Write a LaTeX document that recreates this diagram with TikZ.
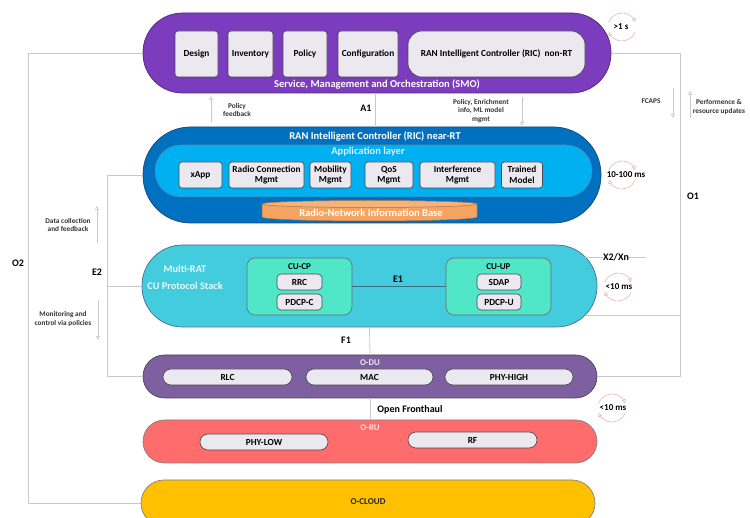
\documentclass[tikz,border=0pt]{standalone}
\usepackage{fontspec}
\setmainfont{Carlito}
\usetikzlibrary{arrows.meta}

\definecolor{smofill}{RGB}{124,60,190}
\definecolor{smoline}{RGB}{80,40,120}
\definecolor{ricfill}{RGB}{0,112,192}
\definecolor{ricline}{RGB}{30,70,120}
\definecolor{appfill}{RGB}{0,176,240}
\definecolor{dbfill}{RGB}{244,164,96}
\definecolor{cufill}{RGB}{66,204,222}
\definecolor{cucpfill}{RGB}{80,230,200}
\definecolor{dufill}{RGB}{126,96,160}
\definecolor{rufill}{RGB}{255,108,108}
\definecolor{cloudfill}{RGB}{255,192,0}
\definecolor{boxfill}{RGB}{236,232,240}
\definecolor{boxline}{RGB}{70,70,80}
\definecolor{e1line}{RGB}{60,110,120}
\definecolor{linegray}{RGB}{200,200,200}
\definecolor{cycpink}{RGB}{232,180,180}

\begin{document}
\begin{tikzpicture}[x=1pt,y=-1pt,
  link/.style={draw=linegray, line width=0.8pt},
  flow/.style={draw=linegray, line width=0.6pt, -{Triangle[open,length=4pt,width=4pt]}},
  pill/.style={draw=#1, line width=0.7pt, inner sep=0pt},
  box/.style={draw=boxline, fill=boxfill, line width=0.6pt, rounded corners=3pt, inner sep=0pt,
    align=center, font=\bfseries\fontsize{9.3}{10.5}\selectfont},
  lbl/.style={font=\bfseries\fontsize{10}{12}\selectfont, text=black, inner sep=1pt},
  note/.style={font=\bfseries\fontsize{7.3}{8.6}\selectfont, text=black!80, align=center, inner sep=0pt},
  title/.style={font=\bfseries\fontsize{10.5}{12}\selectfont, text=white, inner sep=0pt},
  timing/.style={font=\bfseries\fontsize{9}{10}\selectfont, text=black, inner sep=0pt},
  cyc/.style={draw=cycpink, line width=0.6pt, -{Triangle[open,length=4pt,width=4pt]}},
  cycle icon/.pic={
    \draw[cyc] (-160:14) arc[start angle=-160, end angle=-20, radius=14];
    \draw[cyc] (20:14) arc[start angle=20, end angle=160, radius=14];
  }]
\useasboundingbox (0,0) rectangle (750,518);

% ---------- SMO ----------
\node[pill=smoline, fill=smofill, rounded corners=39.5pt, minimum width=468pt, minimum height=80pt] (smo) at (377,53) {};
\node[box, minimum width=43pt, minimum height=46pt] (design) at (196.5,54) {Design};
\node[box, minimum width=45pt, minimum height=46pt] (inventory) at (250.5,54) {Inventory};
\node[box, minimum width=44pt, minimum height=46pt] (policy) at (305,54) {Policy};
\node[box, minimum width=60pt, minimum height=46pt] (config) at (368,54) {Configuration};
\node[box, rounded corners=14pt, minimum width=177pt, minimum height=46pt] (nonrt) at (496.5,54) {RAN Intelligent Controller (RIC)~ non-RT};
\node[title] (smotitle) at (377,84) {Service, Management and Orchestration (SMO)};

% ---------- near-RT RIC ----------
\node[pill=ricline, fill=ricfill, rounded corners=47.5pt, minimum width=458pt, minimum height=96pt] (nearrt) at (372,175) {};
\node[title] (nearrttitle) at (375,136) {RAN Intelligent Controller (RIC) near-RT};
\node[draw=ricline!70, line width=0.5pt, fill=appfill, rounded corners=25.5pt, minimum width=437pt, minimum height=52pt, inner sep=0pt] (app) at (373.5,171) {};
\node[title, text=white!85!appfill] (apptitle) at (368,152) {Application layer};
\node[box, minimum width=43pt, minimum height=26pt] (xapp) at (200.5,175) {xApp};
\node[box, minimum width=75pt, minimum height=26pt] (rcm) at (266.5,175) {Radio Connection\\Mgmt};
\node[box, minimum width=41pt, minimum height=26pt] (mob) at (330.5,175) {Mobility\\Mgmt};
\node[box, minimum width=48pt, minimum height=26pt] (qos) at (389,175) {QoS\\Mgmt};
\node[box, minimum width=75pt, minimum height=26pt] (intf) at (457.5,175) {Interference\\Mgmt};
\node[box, minimum width=41pt, minimum height=26pt] (trained) at (522,175) {Trained\\Model};

% Radio-network information base drawn as a flat cylinder
\fill[dbfill] (262,204) -- (262,217) arc[start angle=180, end angle=0, x radius=107.5, y radius=4]
  -- (477,204) arc[start angle=0, end angle=-180, x radius=107.5, y radius=3.5] -- cycle;
\draw[dbfill!70!black, line width=0.5pt] (262,204) -- (262,217) arc[start angle=180, end angle=0, x radius=107.5, y radius=4] -- (477,204);
\draw[dbfill!70!black, fill=dbfill!85!white, line width=0.5pt] (369.5,204) ellipse[x radius=107.5, y radius=3.5];
\node[title] (rnib) at (371,213) {Radio-Network Information Base};

% ---------- CU ----------
\node[pill=ricline!80, fill=cufill, rounded corners=40.5pt, minimum width=455pt, minimum height=82pt] (cu) at (369.5,286) {};
\node[title, text=white!88!cufill, align=center, font=\bfseries\fontsize{10.3}{17}\selectfont] (multirat) at (185,277) {Multi-RAT\\CU Protocol Stack};
\node[draw=boxline!80, line width=0.6pt, fill=cucpfill, rounded corners=8pt, minimum width=105pt, minimum height=57pt, inner sep=0pt] (cucp) at (299.5,286.5) {};
\node[draw=boxline!80, line width=0.6pt, fill=cucpfill, rounded corners=8pt, minimum width=105pt, minimum height=57pt, inner sep=0pt] (cuup) at (498.5,286.5) {};
\node[lbl, font=\bfseries\fontsize{9}{10}\selectfont] (cucpl) at (299.5,267) {CU-CP};
\node[lbl, font=\bfseries\fontsize{9}{10}\selectfont] (cuupl) at (498.5,267) {CU-UP};
\node[box, rounded corners=4pt, minimum width=45pt, minimum height=16pt] (rrc) at (299.5,282) {RRC};
\node[box, rounded corners=4pt, minimum width=45pt, minimum height=16pt] (pdcpc) at (299.5,302) {PDCP-C};
\node[box, rounded corners=4pt, minimum width=44pt, minimum height=16pt] (sdap) at (499,282) {SDAP};
\node[box, rounded corners=4pt, minimum width=44pt, minimum height=16pt] (pdcpu) at (499,302) {PDCP-U};
\draw[draw=e1line, line width=0.5pt] (cucp.east) -- (cuup.west);
\node[lbl] (e1) at (398,279) {E1};

% ---------- O-DU ----------
\node[pill=boxline, fill=dufill, rounded corners=21.5pt, minimum width=454pt, minimum height=43pt] (odu) at (370,376.5) {};
\node[title, font=\bfseries\fontsize{8.8}{10}\selectfont, text=white!85!dufill] (odul) at (370,363) {O-DU};
\node[box, rounded corners=8pt, minimum width=129pt, minimum height=16pt] (rlc) at (227.5,377) {RLC};
\node[box, rounded corners=8pt, minimum width=127pt, minimum height=16pt] (mac) at (369.5,377) {MAC};
\node[box, rounded corners=8pt, minimum width=128pt, minimum height=16pt] (phyhigh) at (509,377) {PHY-HIGH};

% ---------- O-RU ----------
\node[pill=boxline!70, fill=rufill, rounded corners=21.5pt, minimum width=454pt, minimum height=43pt] (oru) at (370,441.5) {};
\node[title, font=\bfseries\fontsize{8.8}{10}\selectfont, text=white!80!rufill] (orul) at (370,428) {O-RU};
\node[box, rounded corners=8pt, minimum width=128pt, minimum height=16pt] (phylow) at (264,442) {PHY-LOW};
\node[box, rounded corners=8pt, minimum width=129pt, minimum height=16pt] (rf) at (472.5,440) {RF};

% ---------- O-CLOUD ----------
\node[pill=boxline!70, fill=cloudfill, rounded corners=23pt, minimum width=454pt, minimum height=46pt] (ocloud) at (368,503) {};
\node[lbl, font=\bfseries\fontsize{9}{10}\selectfont, text=black!85] (ocloudl) at (368,502) {O-CLOUD};

% ---------- interfaces ----------
\coordinate (o2top) at (28,53);
\coordinate (o2bot) at (28,503);
\draw[link] (smo.west) -- (o2top) -- (o2bot) -- (ocloud.west);
\node[lbl] (o2) at (18,263) {O2};

\coordinate (e2top) at (107,175);
\coordinate (e2mid) at (107,286);
\coordinate (e2bot) at (107,376.5);
\draw[link] (nearrt.west) -- (e2top) -- (e2bot) -- (odu.west);
\draw[link] (e2mid) -- (cu.west);
\node[lbl] (e2) at (97,272) {E2};

\coordinate (a1x) at (375,0);
\draw[link] (smo.south -| a1x) -- (nearrt.north -| a1x);
\node[lbl] (a1) at (366,108) {A1};

\draw[link] (cu.south) -- (odu.north);
\node[lbl] (f1) at (346,340) {F1};
\draw[link] (odu.south) -- (oru.north);
\node[lbl] (ofh) at (410,410) {Open Fronthaul};

\coordinate (o1top) at (680,53);
\coordinate (o1cu) at (680,315);
\coordinate (o1bot) at (680,376.5);
\coordinate (cuedge) at (585,315);
\draw[link] (smo.east) -- (o1top) -- (o1bot) -- (odu.east);
\draw[link] (o1cu) -- (cuedge);
\node[lbl] (o1) at (693,196) {O1};

\coordinate (x2a) at (585,257);
\coordinate (x2b) at (646,257);
\draw[link] (x2a) -- (x2b);
\node[lbl, fill=white, inner sep=0.5pt] (x2) at (616,257) {X2/Xn};

% ---------- flow annotations ----------
\coordinate (pfa) at (211,122); \coordinate (pfb) at (211,96);
\draw[flow] (pfa) -- (pfb);
\node[note] (pfn) at (237,110) {Policy\\feedback};

\coordinate (pea) at (522,97); \coordinate (peb) at (522,126);
\draw[flow] (pea) -- (peb);
\node[note] (pen) at (481,111) {Policy, Enrichment\\info, ML model\\mgmt};

\coordinate (fca) at (673,88); \coordinate (fcb) at (673,118);
\draw[flow] (fca) -- (fcb);
\node[note] (fcn) at (651,101) {FCAPS};

\coordinate (pra) at (690,118); \coordinate (prb) at (690,91);
\draw[flow] (pra) -- (prb);
\node[note] (prn) at (719,107) {Performence \&\\resource updates};

\coordinate (dca) at (97,243); \coordinate (dcb) at (97,206);
\draw[flow] (dca) -- (dcb);
\node[note] (dcn) at (68,225) {Data collection\\and feedback};

\coordinate (mca) at (98,300); \coordinate (mcb) at (98,340);
\draw[flow] (mca) -- (mcb);
\node[note] (mcn) at (63,319) {Monitoring and\\control via policies};

% ---------- control-loop timings ----------
\pic at (622,27) {cycle icon};
\node[timing] (t1) at (621,27) {>1 s};
\pic at (622,175) {cycle icon};
\node[timing] (t2) at (626,175) {10-100 ms};
\pic at (618,287) {cycle icon};
\node[timing] (t3) at (619,287) {<10 ms};
\pic at (612,408) {cycle icon};
\node[timing] (t4) at (613,408) {<10 ms};
\end{tikzpicture}
\end{document}
